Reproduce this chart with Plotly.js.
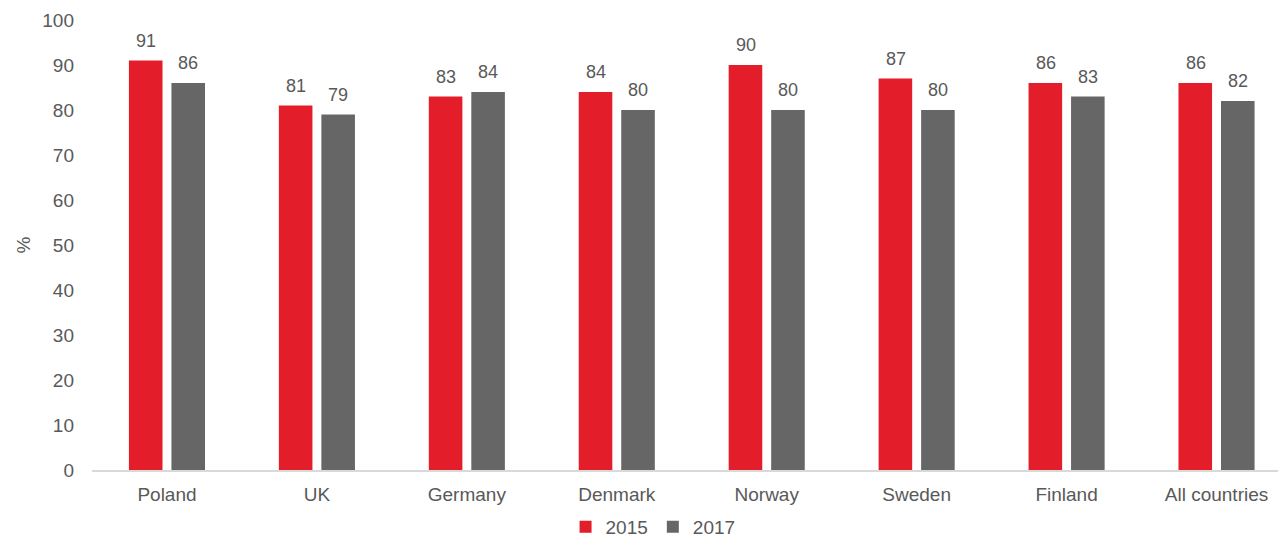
<!DOCTYPE html>
<html><head><meta charset="utf-8">
<script src="https://cdn.plot.ly/plotly-3.0.1.min.js"></script>
<style>html,body{margin:0;padding:0;background:#fff;}#chart{width:1278px;height:546px;}</style>
</head><body><div id="chart"></div>
<script>
const categories = ["Poland","UK","Germany","Denmark","Norway","Sweden","Finland","All countries"];
const values2015 = [91,81,83,84,90,87,86,86];
const values2017 = [86,79,84,80,80,80,83,82];
const seriesNames = ["2015","2017"];
const seriesColors = ["#e31e2a","#666666"];
const fam = "Liberation Sans, Arial, sans-serif";
const font = {family:fam, size:19, color:"#595959"};
const labelFont = {family:fam, size:18, color:"#595959"};
const traces = [
  {type:"bar", name:seriesNames[0], x:categories, y:values2015, marker:{color:seriesColors[0]}},
  {type:"bar", name:seriesNames[1], x:categories, y:values2017, marker:{color:seriesColors[1]}}
];
const annotations = [];
[values2015, values2017].forEach((vals, s) => {
  vals.forEach((v, i) => {
    annotations.push({x:categories[i], y:v, xref:"x", yref:"y", text:String(v), showarrow:false,
      xanchor:"center", yanchor:"bottom", xshift:(s===0?-21:21), yshift:8, font:labelFont});
  });
});
const layout = {
  width:1278, height:546,
  margin:{l:92, r:0, t:20, b:76, autoexpand:false},
  paper_bgcolor:"#fff", plot_bgcolor:"#fff",
  font:font,
  barmode:"group", bargap:0.433, bargroupgap:0.21,
  xaxis:{range:[-0.5,7.41], showgrid:false, showline:true, linecolor:"#d9d9d9", linewidth:2,
         ticks:"", tickfont:font, ticklabelstandoff:6, fixedrange:true, automargin:false},
  yaxis:{range:[0,100], dtick:10, showgrid:false, zeroline:false, showline:false,
         ticks:"", tickfont:font, ticklabelstandoff:17, automargin:false,
         title:{text:"%", font:font, standoff:6}},
  annotations:annotations,
  showlegend:true,
  legend:{orientation:"h", x:0.511, xref:"container", xanchor:"center", y:-0.011, yref:"container", yanchor:"bottom",
          font:font, itemwidth:30, traceorder:"normal", tracegroupgap:0}
};
Plotly.newPlot("chart", traces, layout, {staticPlot:true});
</script></body></html>
